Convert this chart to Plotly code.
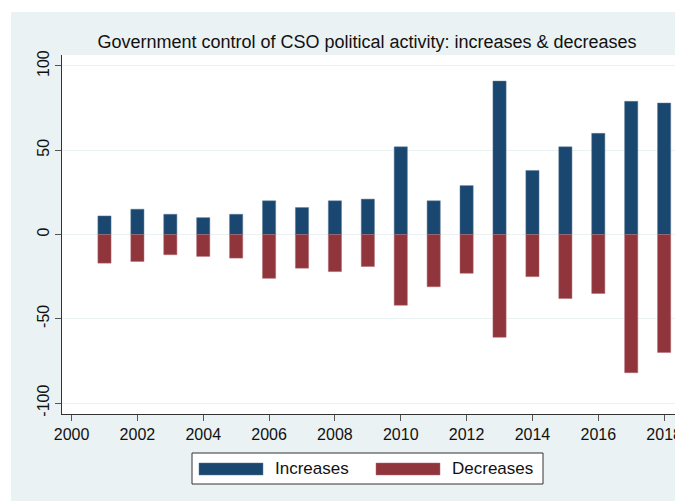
import plotly.graph_objects as go

years = list(range(2001, 2019))
increases = [11, 15, 12, 10, 12, 20, 16, 20, 21, 52, 20, 29, 91, 38, 52, 60, 79, 78]
decreases = [-17, -16, -12, -13, -14, -26, -20, -22, -19, -42, -31, -23, -61, -25, -38, -35, -82, -70]
x_ticks = list(range(2000, 2019, 2))
y_ticks = [-100, -50, 0, 50, 100]
y_tick_text = ["-100", "-50", "0", "50", "100"]

BLUE = "#1a476f"
RED = "#90353b"
BG = "#eaf2f3"
FONT = "Liberation Sans, Arial, Helvetica, sans-serif"

# page body has an 8px margin; work in page pixels and convert
OFF = 8
PAGE_W, PAGE_H = 683, 501
W, H = PAGE_W - OFF, PAGE_H - OFF
# plot area in page pixels
PX0, PX1, PY0, PY1 = 62, 675, 55, 414
L, R, T, B = PX0 - OFF, PAGE_W - PX1, PY0 - OFF, PAGE_H - PY1
PW, PH = PX1 - PX0, PY1 - PY0


def px(x):
    return (x - PX0) / PW


def py(y):
    return (PY1 - y) / PH


fig = go.Figure()
fig.add_trace(go.Bar(x=years, y=increases, name="Increases", width=0.4,
                     marker=dict(color=BLUE, line=dict(width=0.5, color="#5a7a98"))))
fig.add_trace(go.Bar(x=years, y=decreases, name="Decreases", width=0.4,
                     marker=dict(color=RED, line=dict(width=0.5, color="#b06a70"))))

shapes = [
    # white outer strips (in addition to the page margin)
    dict(type="rect", xref="paper", yref="paper", x0=px(OFF), x1=px(11), y0=py(PAGE_H + 2), y1=py(OFF),
         fillcolor="white", line=dict(width=0), layer="below"),
    dict(type="rect", xref="paper", yref="paper", x0=px(OFF), x1=px(PAGE_W + 2), y0=py(12), y1=py(OFF),
         fillcolor="white", line=dict(width=0), layer="below"),
    # legend box
    dict(type="rect", xref="paper", yref="paper", x0=px(192), x1=px(543), y0=py(484), y1=py(453),
         fillcolor="white", line=dict(width=1, color="#333333")),
    dict(type="rect", xref="paper", yref="paper", x0=px(199), x1=px(263), y0=py(475), y1=py(463),
         fillcolor=BLUE, line=dict(width=0.5, color="#5a7a98")),
    dict(type="rect", xref="paper", yref="paper", x0=px(376), x1=px(440), y0=py(475), y1=py(463),
         fillcolor=RED, line=dict(width=0.5, color="#b06a70")),
]

annotations = [
    dict(text="Increases", xref="paper", yref="paper", x=px(273), y=py(469), xanchor="left",
         yanchor="middle", showarrow=False, font=dict(family=FONT, size=17, color="#111111")),
    dict(text="Decreases", xref="paper", yref="paper", x=px(450), y=py(469), xanchor="left",
         yanchor="middle", showarrow=False, font=dict(family=FONT, size=17, color="#111111")),
]

fig.update_layout(
    width=W, height=H,
    margin=dict(l=L, r=R, t=T, b=B, autoexpand=False),
    paper_bgcolor=BG, plot_bgcolor="white",
    barmode="relative",
    showlegend=False,
    title=dict(text="Government control of CSO political activity: increases & decreases",
               xref="container", x=(367 - OFF) / W, xanchor="center",
               yref="container", y=1 - (42 - OFF) / H, yanchor="middle",
               font=dict(family=FONT, size=18, color="#111111")),
    font=dict(family=FONT, size=16, color="#111111"),
    xaxis=dict(range=[1999.71, 2018.33], tickvals=x_ticks, ticks="outside", ticklen=6,
               tickcolor="#555555", showgrid=False, zeroline=False, showline=True,
               linecolor="#333333", linewidth=1, tickfont=dict(size=16)),
    yaxis=dict(range=[-106.5, 106.5], tickvals=y_ticks, ticktext=y_tick_text, ticks="outside",
               ticklen=6, tickcolor="#555555", showgrid=True, gridcolor=BG, gridwidth=1,
               zeroline=True, zerolinecolor=BG, zerolinewidth=1, showline=True,
               linecolor="#333333", linewidth=1, tickangle=-90, tickfont=dict(size=16)),
    shapes=shapes,
    annotations=annotations,
)

fig.write_html("out.html")
